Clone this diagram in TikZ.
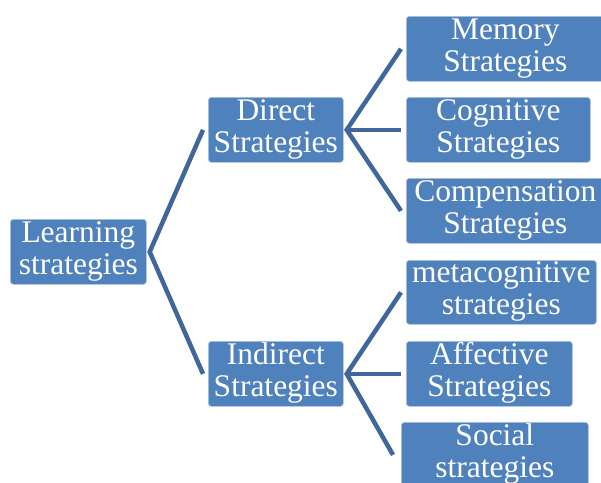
\documentclass[tikz,border=0pt]{standalone}
\usepackage{fontspec}
\setmainfont{Liberation Serif}
\definecolor{boxblue}{HTML}{4F81BD}
\definecolor{linkblue}{HTML}{40679C}
\newcommand\boxtwoline[2]{\raisebox{-3pt}{\begin{tabular}{@{}c@{}}#1\\#2\end{tabular}}}
\tikzset{
  box/.style={fill=boxblue, draw=white!55!boxblue, line width=0.7pt, rounded corners=3pt,
    inner sep=0pt, text=white, anchor=north west,
    minimum height=65pt, font=\fontsize{31.5}{32}\selectfont},
  link/.style={draw=linkblue, line width=4.5pt}
}
\begin{document}
\begin{tikzpicture}[x=1pt,y=-1pt]
\useasboundingbox (0,0) rectangle (601,482);
\clip (0,0) rectangle (601,482);
\node[box, minimum width=136pt] (learn) at (10,219) {\boxtwoline{Learning}{strategies}};
\node[box, minimum width=135pt] (dir) at (208,97) {\boxtwoline{Direct}{Strategies}};
\node[box, minimum width=135pt] (ind) at (208,341) {\boxtwoline{Indirect}{Strategies}};
\node[box, minimum width=198pt] (mem) at (406,16) {\boxtwoline{Memory}{Strategies}};
\node[box, minimum width=184pt] (cog) at (406,97) {\boxtwoline{Cognitive}{Strategies}};
\node[box, minimum width=198pt] (comp) at (406,178) {\boxtwoline{Compensation}{Strategies}};
\node[box, minimum width=190pt, minimum height=64pt] (meta) at (406,260) {\boxtwoline{metacognitive}{strategies}};
\node[box, minimum width=166pt] (aff) at (406,341) {\boxtwoline{Affective}{Strategies}};
\node[box, minimum width=187pt] (soc) at (401,422) {\boxtwoline{Social}{strategies}};
% connectors
\draw[link] ([xshift=-5pt]dir.west) -- ([xshift=3pt]learn.east) -- ([xshift=-5pt]ind.west);
\draw[link] ([xshift=-5pt]mem.west) -- ([xshift=3pt]dir.east) -- ([xshift=-5pt]comp.west);
\draw[link] ([xshift=3pt]dir.east) -- ([xshift=-5pt]cog.west);
\draw[link] ([xshift=-5pt]meta.west) -- ([xshift=3pt]ind.east) -- ([xshift=-8pt]soc.west);
\draw[link] ([xshift=3pt]ind.east) -- ([xshift=-5pt]aff.west);
\end{tikzpicture}
\end{document}
